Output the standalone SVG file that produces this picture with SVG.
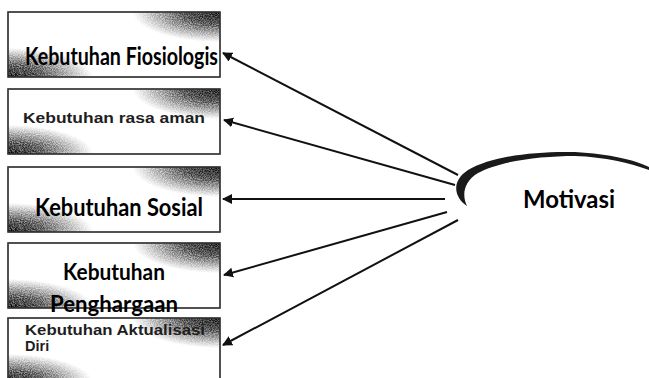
<svg xmlns="http://www.w3.org/2000/svg" width="649" height="378" viewBox="0 0 649 378">
  <style>
    .box { fill: #ffffff; stroke: #3a3a3a; stroke-width: 1.3; }
    .big { font-family: Lato, "Open Sans", "Liberation Sans", sans-serif; font-weight: bold; fill: #000; }
    .small { font-family: "Liberation Sans", Arial, sans-serif; font-weight: bold; font-size: 14.5px; fill: #1e1e1e; }
    .conn line { stroke: #111; stroke-width: 2; marker-end: url(#head); }
  </style>
  <defs>
    <marker id="head" viewBox="0 0 10 10" refX="9" refY="5" markerWidth="5" markerHeight="5" orient="auto" markerUnits="strokeWidth">
      <path d="M0,0 L10,5 L0,10 Z" fill="#111"/>
    </marker>
    <radialGradient id="shadeTR" cx="1" cy="0" r="1">
      <stop offset="0" stop-color="#000" stop-opacity="1"/>
      <stop offset="0.4" stop-color="#1a1a1a" stop-opacity="0.8"/>
      <stop offset="1" stop-color="#555" stop-opacity="0"/>
    </radialGradient>
    <radialGradient id="shadeBL" cx="0" cy="1" r="1">
      <stop offset="0" stop-color="#000" stop-opacity="1"/>
      <stop offset="0.4" stop-color="#1a1a1a" stop-opacity="0.75"/>
      <stop offset="1" stop-color="#555" stop-opacity="0"/>
    </radialGradient>
    <!-- speckled toner texture for the corner shading -->
    <filter id="grain" x="0" y="0" width="1" height="1">
      <feTurbulence type="fractalNoise" baseFrequency="0.9" numOctaves="2" seed="3" result="noise"/>
      <feColorMatrix in="noise" type="matrix" values="0 0 0 0 0  0 0 0 0 0  0 0 0 0 0  0 0 0 2.5 -0.7" result="speck"/>
      <feComposite in="SourceGraphic" in2="speck" operator="in"/>
    </filter>
    <!-- corner shading shared by every box (212 x 65) -->
    <g id="shade">
      <rect x="0" y="0" width="212" height="65" class="box"/>
      <g filter="url(#grain)">
        <rect x="125" y="0" width="87" height="30" fill="url(#shadeTR)"/>
        <rect x="0" y="36" width="85" height="29" fill="url(#shadeBL)"/>
      </g>
      <g opacity="0.6">
        <rect x="125" y="0" width="87" height="30" fill="url(#shadeTR)"/>
        <rect x="0" y="36" width="85" height="29" fill="url(#shadeBL)"/>
      </g>
      <rect x="0" y="0" width="212" height="65" fill="none" stroke="#3a3a3a" stroke-width="1.3"/>
    </g>
  </defs>

  <rect width="649" height="378" fill="#ffffff"/>

  <g id="node-fisiologis">
    <use href="#shade" x="8" y="12"/>
    <text class="big" x="25" y="65" font-size="25" textLength="193" lengthAdjust="spacingAndGlyphs">Kebutuhan Fiosiologis</text>
  </g>

  <g id="node-rasa-aman">
    <use href="#shade" x="8" y="89"/>
    <text class="small" x="23" y="123" textLength="182" lengthAdjust="spacingAndGlyphs">Kebutuhan rasa aman</text>
  </g>

  <g id="node-sosial">
    <use href="#shade" x="8" y="167"/>
    <text class="big" x="35" y="216" font-size="25" textLength="168" lengthAdjust="spacingAndGlyphs">Kebutuhan Sosial</text>
  </g>

  <g id="node-penghargaan">
    <use href="#shade" x="8" y="243"/>
    <text class="big" x="63" y="280" font-size="23" textLength="102" lengthAdjust="spacingAndGlyphs">Kebutuhan</text>
    <text class="big" x="50" y="312" font-size="23" textLength="128" lengthAdjust="spacingAndGlyphs">Penghargaan</text>
  </g>

  <g id="node-aktualisasi">
    <use href="#shade" x="8" y="318"/>
    <text class="small" x="25" y="335" textLength="180" lengthAdjust="spacingAndGlyphs">Kebutuhan Aktualisasi</text>
    <text class="small" x="25" y="351">Diri</text>
  </g>

  <g id="node-motivasi">
    <path d="M467,206 C455,198 450,182 468,170 C492,156 535,151 575,152 C610,154 635,160 649,167 L649,170 C630,163 605,157 575,156 C540,156 500,161 478,173 C463,182 462,196 467,206 Z" fill="#1a1a1a"/>
    <text class="big" x="523" y="208" font-size="25" textLength="92" lengthAdjust="spacingAndGlyphs">Motivasi</text>
  </g>

  <g id="connectors" class="conn">
    <line x1="458" y1="175" x2="223" y2="53"/>
    <line x1="455" y1="185" x2="224" y2="120"/>
    <line x1="445" y1="199" x2="223" y2="199"/>
    <line x1="447" y1="212" x2="224" y2="275"/>
    <line x1="458" y1="220" x2="223" y2="345"/>
  </g>
</svg>
